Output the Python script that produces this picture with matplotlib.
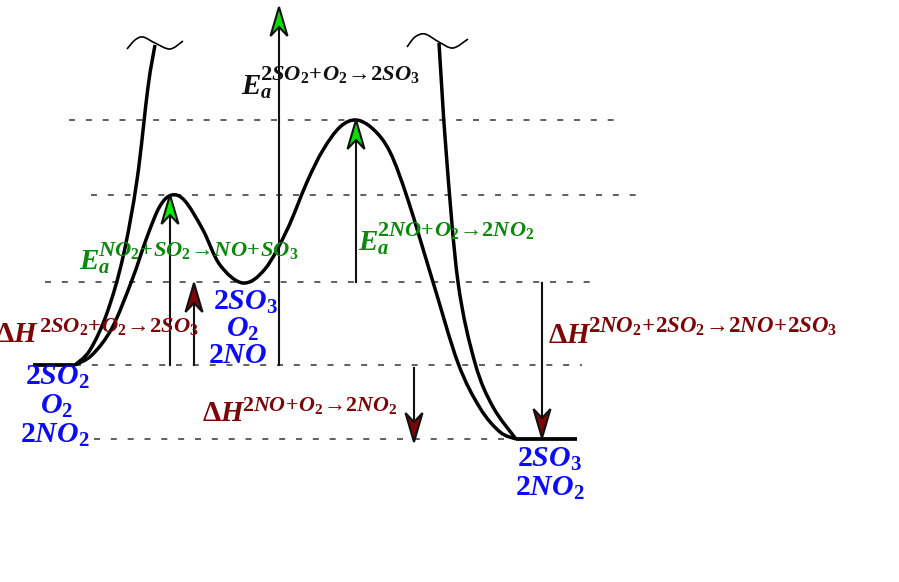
"""Energy profile of the NO2 catalysed SO2 oxidation."""

import matplotlib.pyplot as plt
from matplotlib.patches import PathPatch, Polygon
from matplotlib.path import Path

plt.rcParams["mathtext.fontset"] = "custom"
plt.rcParams["mathtext.it"] = "Liberation Serif:italic:bold"
plt.rcParams["mathtext.rm"] = "Liberation Serif:bold"
plt.rcParams["mathtext.bf"] = "Liberation Serif:bold"

BLUE = "#0a0aff"
GREEN = "#0a8a0a"
MAROON = "#7d0505"

catalysed_x = [75, 92, 112, 132, 147, 160, 172, 185, 203, 220, 243, 265, 287, 307, 323, 340, 356, 373, 390, 408, 433, 458, 480, 500, 516]
catalysed_y = [365, 355, 328, 280, 237, 206, 195, 201, 230, 265, 283, 269, 230, 182, 150, 127, 120, 129, 152, 200, 282, 363, 408, 432, 439]

direct_left_x = [75, 90, 107, 123, 137, 148, 155]
direct_left_y = [365, 350, 313, 257, 180, 87, 45]
direct_right_x = [439, 446, 458, 475, 493, 516]
direct_right_y = [43, 150, 282, 363, 407, 439]

break_left_x = [127, 135, 143, 155, 170, 183]
break_left_y = [49, 40, 37, 43, 49, 41]
break_right_x = [407, 415, 425, 439, 453, 468]
break_right_y = [47, 37, 34, 42, 48, 39]

dash_y = [120, 195, 282, 365, 439]
dash_start = [69, 91, 45, 75, 94]
dash_end = [617, 640, 594, 582, 516]

plateau_x0 = [33, 516]
plateau_x1 = [75, 577]
plateau_y = [365, 439]

arrow_x = [279, 170, 356, 194, 414, 542]
arrow_from = [365, 365, 282, 365, 368, 283]
arrow_to = [7, 195, 120, 283, 442, 438]
arrow_fill = ["#00e000", "#00f000", "#00e000", MAROON, MAROON, MAROON]

base_text = ["$E_a$", "$E_a$", "$E_a$", r"$\Delta H$", r"$\Delta H$", r"$\Delta H$"]
base_x = [241, 79, 358, -5, 202, 548]
base_y = [95, 270, 251, 342, 421, 343]
reaction_text = [
    r"$2SO_2\!+\!O_2\!\rightarrow\!2SO_3$",
    r"$NO_2\!+\!SO_2\!\rightarrow\!NO\!+\!SO_3$",
    r"$2NO\!+\!O_2\!\rightarrow\!2NO_2$",
    r"$2SO_2\!+\!O_2\!\rightarrow\!2SO_3$",
    r"$2NO\!+\!O_2\!\rightarrow\!2NO_2$",
    r"$2NO_2\!+\!2SO_2\!\rightarrow\!2NO\!+\!2SO_3$",
]
reaction_x = [260, 98, 377, 39, 242, 588]
reaction_y = [80, 256, 236, 332, 411, 333]
reaction_size = [16.2, 16.2, 16, 16.2, 15.8, 16.5]
label_colour = ["#111111", GREEN, GREEN, MAROON, MAROON, MAROON]

species_text = ["$2SO_2$", "$O_2$", "$2NO_2$", "$2SO_3$", "$O_2$", "$2NO$", "$2SO_3$", "$2NO_2$"]
species_x = [57, 57, 55, 245, 243, 238, 549, 550]
species_y = [385, 414, 443, 310, 337, 363, 467, 496]


def smooth_path(xs, ys):
    """Catmull-Rom curve through the read points."""
    pts = list(zip(xs, ys))
    verts = [pts[0]]
    codes = [Path.MOVETO]
    for i in range(len(pts) - 1):
        p0 = pts[max(i - 1, 0)]
        p1 = pts[i]
        p2 = pts[i + 1]
        p3 = pts[min(i + 2, len(pts) - 1)]
        c1 = (p1[0] + (p2[0] - p0[0]) / 6, p1[1] + (p2[1] - p0[1]) / 6)
        c2 = (p2[0] - (p3[0] - p1[0]) / 6, p2[1] - (p3[1] - p1[1]) / 6)
        verts += [c1, c2, p2]
        codes += [Path.CURVE4, Path.CURVE4, Path.CURVE4]
    return Path(verts, codes)


fig = plt.figure(figsize=(8.99, 5.82), dpi=100)
ax = fig.add_axes([0, 0, 1, 1])
ax.set_xlim(0, 899)
ax.set_ylim(582, 0)
ax.axis("off")

for y, x0, x1 in zip(dash_y, dash_start, dash_end):
    ax.plot([x0, x1], [y, y], color="#444444", lw=1.2, dashes=(3.6, 6.5), dash_capstyle="butt", zorder=1)

for x0, x1, y in zip(plateau_x0, plateau_x1, plateau_y):
    ax.plot([x0, x1], [y, y], color="black", lw=2.7, solid_capstyle="butt", zorder=3)

for xs, ys, width in [
    (catalysed_x, catalysed_y, 2.5),
    (direct_left_x, direct_left_y, 2.5),
    (direct_right_x, direct_right_y, 2.5),
    (break_left_x, break_left_y, 1.2),
    (break_right_x, break_right_y, 1.2),
]:
    ax.add_patch(PathPatch(smooth_path(xs, ys), fc="none", ec="black", lw=width, zorder=3))

for x, start, tip, fill in zip(arrow_x, arrow_from, arrow_to, arrow_fill):
    sign = 1 if start > tip else -1
    ax.plot([x, x], [start, tip + sign * 20], color="#111111", lw=1.5, zorder=4)
    head = [(x, tip), (x + 8.5, tip + sign * 29), (x, tip + sign * 20), (x - 8.5, tip + sign * 29)]
    ax.add_patch(Polygon(head, closed=True, fc=fill, ec="#111111", lw=1.5, zorder=5))

for text, x, y, colour in zip(base_text, base_x, base_y, label_colour):
    ax.text(x, y, text, color=colour, fontsize=21, ha="left", va="baseline", zorder=6)

for text, x, y, colour, size in zip(reaction_text, reaction_x, reaction_y, label_colour, reaction_size):
    ax.text(x, y, text, color=colour, fontsize=size, ha="left", va="baseline", zorder=6)

for text, x, y in zip(species_text, species_x, species_y):
    ax.text(x, y, text, color=BLUE, fontsize=21.5, ha="center", va="baseline", zorder=6)

fig.savefig("out.png", dpi=100)
